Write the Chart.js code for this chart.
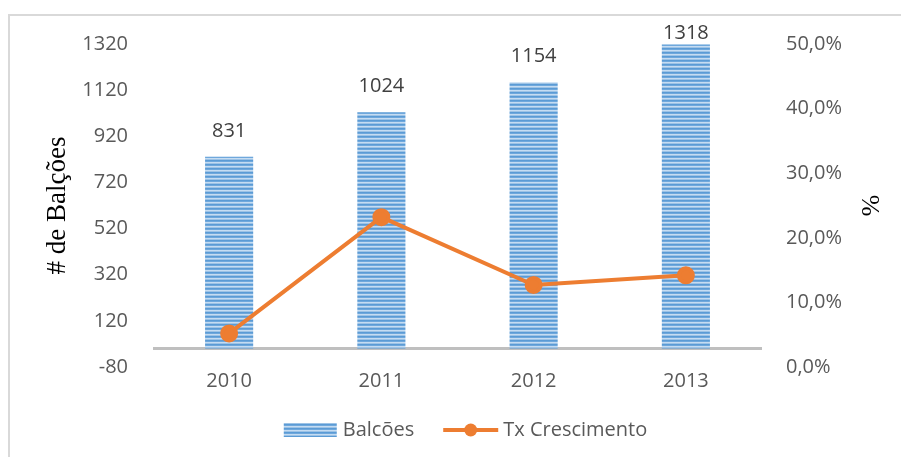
<!DOCTYPE html>
<html>
<head>
<meta charset="utf-8">
<script src="https://cdn.jsdelivr.net/npm/chart.js@4"></script>
<style>
  body { margin: 0; background: #fff; }
  #wrap { width: 901px; height: 457px; }
</style>
</head>
<body>
<div id="wrap"><canvas id="myChart" width="901" height="457"></canvas></div>
<script>
// categories and values
var years = ['2010', '2011', '2012', '2013'];
var balcoes = [831, 1024, 1154, 1318];
var txCrescimento = [5.2, 23.2, 12.7, 14.2];
// tick labels
var leftTicks = [-80, 120, 320, 520, 720, 920, 1120, 1320];
var rightTicks = [0, 10, 20, 30, 40, 50];

var tickFont = { family: 'Open Sans', size: 20 };
var grey = '#595959';

// striped fill like the Excel bars
function stripes() {
  var c = document.createElement('canvas');
  c.width = 4; c.height = 4;
  var g = c.getContext('2d');
  var rows = ['#5b9bd5', '#6fa8dc', '#c5dcf2', '#9dc3e6'];
  rows.forEach(function (col, i) { g.fillStyle = col; g.fillRect(0, i, 4, 1); });
  return g.createPattern(c, 'repeat');
}
var barFill = stripes();

var extras = {
  id: 'extras',
  beforeDraw: function (chart) {
    var ctx = chart.ctx;
    ctx.save();
    ctx.strokeStyle = '#d9d9d9';
    ctx.lineWidth = 2;
    ctx.strokeRect(9, 15, chart.width + 20, chart.height + 20);
    ctx.restore();
  },
  beforeDatasetsDraw: function (chart) {
    var ctx = chart.ctx, a = chart.chartArea;
    var y0 = chart.scales.y.getPixelForValue(0);
    ctx.save();
    ctx.strokeStyle = '#bfbfbf';
    ctx.lineWidth = 3;
    ctx.beginPath();
    ctx.moveTo(a.left, y0);
    ctx.lineTo(a.right, y0);
    ctx.stroke();
    ctx.restore();
  },
  afterDatasetsDraw: function (chart) {
    var ctx = chart.ctx, a = chart.chartArea;
    ctx.save();
    ctx.font = '20px "Open Sans"';
    ctx.fillStyle = '#404040';
    ctx.textAlign = 'center';
    ctx.textBaseline = 'middle';
    chart.getDatasetMeta(0).data.forEach(function (bar, i) {
      var y = Math.max(bar.y - 26, a.top - 11);
      ctx.fillText(String(balcoes[i]), bar.x, y);
    });
    ctx.restore();
  },
  afterDraw: function (chart) {
    // legend: striped swatch + line with marker
    var ctx = chart.ctx, a = chart.chartArea;
    ctx.save();
    ctx.font = '20px "Open Sans"';
    ctx.textBaseline = 'middle';
    ctx.fillStyle = grey;
    var t1 = 'Balcões', t2 = 'Tx Crescimento';
    var w1 = ctx.measureText(t1).width, w2 = ctx.measureText(t2).width;
    var total = 53 + 6 + w1 + 29 + 55 + 5 + w2;
    var x = (a.left + a.right) / 2 + 8 - total / 2;
    var y = 430;
    ctx.fillStyle = barFill;
    ctx.fillRect(x, y - 7, 53, 14);
    x += 59;
    ctx.fillStyle = grey;
    ctx.fillText(t1, x, y);
    x += w1 + 29;
    ctx.strokeStyle = '#ed7d31';
    ctx.lineWidth = 4;
    ctx.beginPath();
    ctx.moveTo(x, y); ctx.lineTo(x + 55, y);
    ctx.stroke();
    ctx.fillStyle = '#ed7d31';
    ctx.beginPath();
    ctx.arc(x + 27.5, y, 6.5, 0, Math.PI * 2);
    ctx.fill();
    x += 60;
    ctx.fillStyle = grey;
    ctx.fillText(t2, x, y);
    ctx.restore();
  }
};

var ctx = document.getElementById('myChart');
var myChart = new Chart(ctx, {
  type: 'bar',
  data: {
    labels: years,
    datasets: [
      {
        type: 'bar',
        label: 'Balcões',
        data: balcoes,
        backgroundColor: barFill,
        borderWidth: 0,
        barPercentage: 0.316,
        categoryPercentage: 1,
        yAxisID: 'y',
        order: 1
      },
      {
        type: 'line',
        label: 'Tx Crescimento',
        data: txCrescimento,
        borderColor: '#ed7d31',
        backgroundColor: '#ed7d31',
        borderWidth: 4,
        pointRadius: 7,
        pointHoverRadius: 7,
        fill: false,
        tension: 0,
        yAxisID: 'y1',
        order: 0
      }
    ]
  },
  options: {
    responsive: false,
    animation: false,
    layout: { padding: { top: 44, bottom: 0, left: 0, right: 0 } },
    plugins: { legend: { display: false }, tooltip: { enabled: false } },
    scales: {
      x: {
        grid: { display: false, drawTicks: false },
        border: { display: false },
        ticks: { color: grey, font: tickFont, padding: 2 },
        afterFit: function (s) { s.height = 90; }
      },
      y: {
        position: 'left',
        min: -80,
        max: 1320,
        grid: { display: false, drawTicks: false },
        border: { display: false },
        ticks: {
          color: grey, font: tickFont, padding: 25,
          callback: function (v) { return String(v); }
        },
        afterBuildTicks: function (s) { s.ticks = leftTicks.map(function (v) { return { value: v }; }); },
        title: {
          display: true,
          text: '# de Balções',
          color: '#000',
          font: { family: 'Liberation Serif', size: 27 },
          padding: { top: 42, bottom: 0 }
        },
        afterFit: function (s) { s.width = 153; }
      },
      y1: {
        position: 'right',
        min: 0,
        max: 50,
        grid: { display: false, drawTicks: false },
        border: { display: false },
        ticks: {
          color: grey, font: tickFont, padding: 24,
          callback: function (v) { return v.toFixed(1).replace('.', ',') + '%'; }
        },
        afterBuildTicks: function (s) { s.ticks = rightTicks.map(function (v) { return { value: v }; }); },
        title: {
          display: true,
          text: '%',
          color: '#000',
          font: { family: 'Liberation Serif', size: 26 },
          padding: { top: 17, bottom: 0 }
        },
        afterFit: function (s) { s.width = 139; }
      }
    }
  },
  plugins: [extras]
});
</script>
</body>
</html>
